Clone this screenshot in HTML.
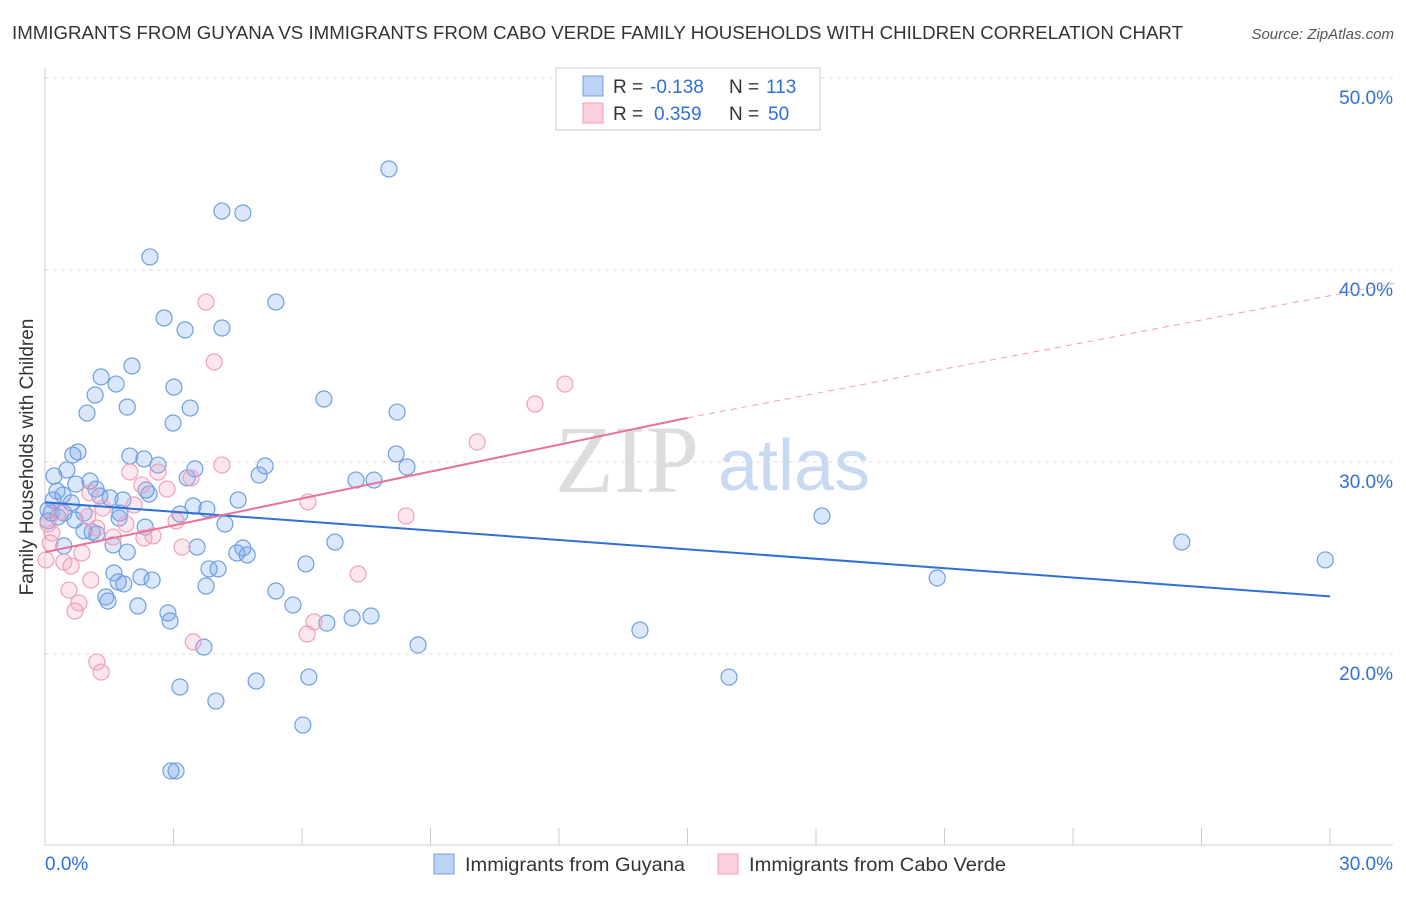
<!DOCTYPE html>
<html><head><meta charset="utf-8"><style>
body{margin:0;background:#fff;font-family:"Liberation Sans",sans-serif}
</style></head><body>
<svg width="1406" height="892" xmlns="http://www.w3.org/2000/svg">
<text x="12" y="39" font-size="18" fill="#333" textLength="1171" lengthAdjust="spacingAndGlyphs">IMMIGRANTS FROM GUYANA VS IMMIGRANTS FROM CABO VERDE FAMILY HOUSEHOLDS WITH CHILDREN CORRELATION CHART</text>
<text x="1394" y="39" font-size="15" fill="#555" font-style="italic" text-anchor="end">Source: ZipAtlas.com</text>
<g id="grid"></g>
<g><text x="555" y="492" font-size="96" fill="#ddd" font-family="Liberation Serif,serif">ZIP</text><text x="718" y="490" font-size="72" fill="#c8daf2">atlas</text></g>
<g id="axes"></g>
<g id="pts"></g>
<g id="trends"></g>
<text x="33" y="457" font-size="19" fill="#333" text-anchor="middle" transform="rotate(-90 33 457)">Family Households with Children</text>
<g>
<rect x="556" y="68" width="264" height="62" fill="#fff" stroke="#ccc"/>
<rect x="583" y="76" width="20" height="20" fill="#bcd3f5" stroke="#6f9fe0"/>
<rect x="583" y="103" width="20" height="20" fill="#fbd0dc" stroke="#f0a0b8"/>
<text x="613" y="93" font-size="19" fill="#333">R =</text>
<text x="650" y="93" font-size="19" fill="#2f6fd6">-0.138</text>
<text x="729" y="93" font-size="19" fill="#333">N =</text>
<text x="766" y="93" font-size="19" fill="#2f6fd6">113</text>
<text x="613" y="120" font-size="19" fill="#333">R =</text>
<text x="654" y="120" font-size="19" fill="#2f6fd6">0.359</text>
<text x="729" y="120" font-size="19" fill="#333">N =</text>
<text x="768" y="120" font-size="19" fill="#2f6fd6">50</text>
</g>
<g>
<rect x="434" y="854" width="20" height="20" fill="#bcd3f5" stroke="#6f9fe0"/>
<text x="465" y="871" font-size="19" fill="#333" textLength="220" lengthAdjust="spacingAndGlyphs">Immigrants from Guyana</text>
<rect x="718" y="854" width="20" height="20" fill="#fbd0dc" stroke="#f0a0b8"/>
<text x="749" y="871" font-size="19" fill="#333" textLength="257" lengthAdjust="spacingAndGlyphs">Immigrants from Cabo Verde</text>
</g>
</svg>
<script>
const yTicks=[20,30,40,50];
const xTickLabels=["0.0%","30.0%"];
const blueX=[8.03,4.13,4.62,2.45,5.39,2.78,3.27,4.13,2.03,1.31,1.66,3.01,1.17,6.51,1.92,0.98,8.22,3.39,2.99,0.77,0.65,1.98,2.31,8.2,2.64,5.14,8.45,0.51,3.5,0.21,3.32,5.0,7.26,7.68,1.05,0.72,1.19,2.36,0.28,2.43,0.42,1.28,1.52,4.51,0.19,1.82,0.61,3.46,3.78,0.07,0.14,0.44,0.91,1.75,3.15,18.14,0.3,1.73,0.7,0.07,4.2,2.34,0.91,1.1,1.21,6.77,26.54,1.59,0.44,3.55,4.62,1.92,4.48,4.72,29.89,6.09,3.83,4.04,1.61,2.24,20.83,2.5,1.71,1.84,3.76,5.39,1.42,1.47,2.17,5.79,2.87,2.92,7.17,7.61,6.58,13.89,8.71,3.71,15.97,4.93,6.16,3.15,3.99,6.02,2.94,3.06];
const blueY=[45.26,43.07,42.97,40.68,38.33,37.5,36.88,36.98,35.0,34.43,34.06,33.9,33.49,33.28,32.86,32.55,32.6,32.81,32.03,30.52,30.36,30.31,30.16,30.42,29.84,29.79,29.74,29.58,29.64,29.27,29.17,29.32,29.06,29.06,29.01,28.85,28.59,28.54,28.49,28.33,28.28,28.23,28.13,28.02,28.02,28.02,27.87,27.71,27.55,27.5,27.34,27.34,27.34,27.34,27.29,27.19,27.14,27.08,26.98,26.93,26.77,26.61,26.41,26.35,26.25,25.83,25.83,25.68,25.63,25.57,25.52,25.31,25.26,25.16,24.9,24.69,24.43,24.43,24.22,24.01,23.96,23.85,23.75,23.65,23.54,23.28,22.97,22.76,22.5,22.55,22.14,21.72,21.88,21.98,21.61,21.25,20.47,20.36,18.8,18.59,18.8,18.28,17.55,16.3,13.91,13.91];
const pinkX=[3.76,3.95,12.14,11.44,10.09,4.13,2.64,1.98,3.41,2.26,2.85,1.05,6.14,2.08,1.35,0.35,8.43,1.0,3.06,0.07,1.89,1.21,0.16,2.31,2.52,1.59,0.12,3.2,0.86,0.02,0.44,0.61,7.31,1.07,0.56,0.79,0.7,6.28,6.12,3.46,1.21,1.31];
const pinkY=[38.33,35.21,34.06,33.02,31.04,29.84,29.48,29.48,29.17,28.8,28.59,28.39,27.92,27.76,27.6,27.4,27.19,27.14,26.93,26.77,26.77,26.56,26.3,26.04,26.15,26.09,25.78,25.57,25.26,24.9,24.79,24.58,24.17,23.85,23.33,22.66,22.24,21.67,21.04,20.63,19.58,19.06];
const blueTrend=[[0,27.9],[30,23.0]];
const pinkTrend=[[0,25.3],[15,32.3],[31.5,39.3]];
const NS="http://www.w3.org/2000/svg";
const X=v=>45+v*1285/30, Y=v=>78+(50-v)*19.2;
function mk(t,a,p){const e=document.createElementNS(NS,t);for(const k in a)e.setAttribute(k,a[k]);document.getElementById(p).appendChild(e);return e;}
yTicks.forEach(t=>{
 const l=mk('line',{x1:45,x2:1393,y1:Y(t),y2:Y(t),stroke:'#ddd','stroke-dasharray':'4,4'},'grid');
 
 
 const tx=mk('text',{x:1393,y:Y(t)+26,'font-size':19,fill:'#2f6fd6','text-anchor':'end'},'axes');
 tx.textContent=t.toFixed(1)+'%';
 
 
});
mk('line',{x1:45,x2:45,y1:68,y2:845,stroke:'#ccc'},'axes');
mk('line',{x1:45,x2:1393,y1:845,y2:845,stroke:'#ccc'},'axes');
for(let i=0;i<=10;i++){const l=mk('line',{x1:X(i*3),x2:X(i*3),y1:828,y2:845,stroke:'#ccc'},'axes');
 
 }
[[0,45,'start'],[30,1393,'end']].forEach((d,i)=>{const t=mk('text',{x:d[1],y:870,'font-size':19,fill:'#2f6fd6','text-anchor':d[2]},'axes');t.textContent=xTickLabels[i];
 
 });
blueX.forEach((x,i)=>{const c=mk('circle',{cx:X(x),cy:Y(blueY[i]),r:8,fill:'rgba(110,160,235,0.25)',stroke:'#6f9fe0','stroke-width':1.2},'pts');
 
 });
pinkX.forEach((x,i)=>{const c=mk('circle',{cx:X(x),cy:Y(pinkY[i]),r:8,fill:'rgba(245,160,190,0.25)',stroke:'#f0a0b8','stroke-width':1.2},'pts');
 
 });
const bt=mk('line',{x1:X(blueTrend[0][0]),y1:Y(blueTrend[0][1]),x2:X(blueTrend[1][0]),y2:Y(blueTrend[1][1]),stroke:'#2f6fd6','stroke-width':2},'trends');


const pt=mk('line',{x1:X(pinkTrend[0][0]),y1:Y(pinkTrend[0][1]),x2:X(pinkTrend[1][0]),y2:Y(pinkTrend[1][1]),stroke:'#e8729a','stroke-width':2},'trends');


const pd=mk('line',{x1:X(pinkTrend[1][0]),y1:Y(pinkTrend[1][1]),x2:X(pinkTrend[2][0]),y2:Y(pinkTrend[2][1]),stroke:'#eaa0b8','stroke-width':1,'stroke-dasharray':'6,5'},'trends');


</script>
</body></html>
